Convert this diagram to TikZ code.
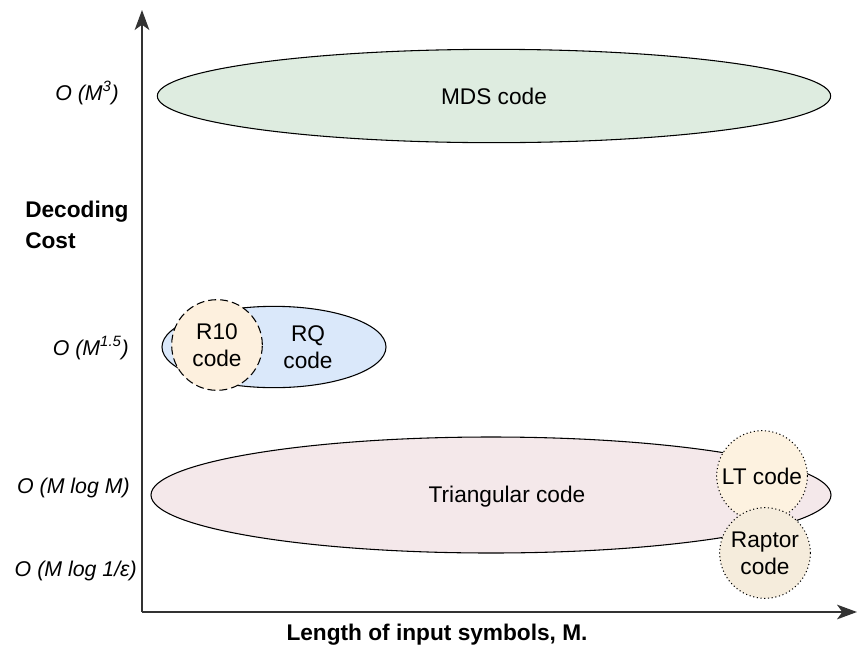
\documentclass[tikz,border=0pt]{standalone}
\usepackage{fontspec}
\setmainfont{Liberation Sans}
\usetikzlibrary{shapes.geometric,arrows.meta}

\definecolor{mdsgreen}{RGB}{222,236,224}
\definecolor{rqblue}{RGB}{218,232,250}
\definecolor{peach}{RGB}{253,240,222}
\definecolor{trirose}{RGB}{244,232,234}
\definecolor{ltcream}{RGB}{253,242,224}
\definecolor{raptorcream}{RGB}{245,236,220}

\begin{document}
\begin{tikzpicture}[x=0.75pt,y=-0.75pt,
    every node/.style = {font=\fontsize{17}{20}\selectfont, align=center, inner sep=0pt},
    codeshape/.style = {ellipse, draw, line width=0.8pt},
    codecircle/.style = {circle, draw, line width=0.8pt, minimum size=68pt},
    costlabel/.style = {anchor=east, font=\fontsize{16}{19}\selectfont\itshape},
    axis/.style = {draw=black!80, line width=1.2pt, -{Stealth[length=15pt,width=11pt,inset=4pt]}}]

  \useasboundingbox (0,0) rectangle (858,654);

  % axes
  \coordinate (origin) at (142,612);
  \coordinate (ytip) at (142,10);
  \coordinate (xtip) at (857,612);
  \draw[axis] (origin) -- (ytip);
  \draw[axis] (origin) -- (xtip);

  % codes
  \node[codeshape, fill=mdsgreen, minimum width=505pt, minimum height=70pt] (mds) at (494,96) {MDS code};

  \node[codeshape, fill=rqblue, minimum width=168pt, minimum height=61pt] (rq) at (274,347) {};
  \node (rqtext) at (308,347) {RQ\\code};
  \node[codecircle, fill=peach, dash pattern=on 6pt off 3pt] (r10) at (217,345) {R10\\code};

  \node[codeshape, fill=trirose, minimum width=510pt, minimum height=87pt] (tri) at (491,495) {};
  \node (tritext) at (507,497) {Triangular code};
  \node[codecircle, fill=ltcream, dotted] (lt) at (762,476) {LT code};
  \node[codecircle, fill=raptorcream, dotted] (raptor) at (765,553) {Raptor\\code};

  % axis labels
  \node[costlabel] (m3) at (119,93) {O (M\textsuperscript{3})};
  \node[costlabel] (m15) at (129,348) {O (M\textsuperscript{1.5})};
  \node[costlabel] (mlogm) at (130,488) {O (M log M)};
  \node[costlabel] (mloge) at (137,571) {O (M log 1/ε)};
  \node[anchor=west, align=left, font=\fontsize{17}{23}\selectfont\bfseries] (cost) at (25,225) {Decoding\\Cost};
  \node[font=\fontsize{17}{20}\selectfont\bfseries] (length) at (437,635) {Length of input symbols, M.};

\end{tikzpicture}
\end{document}
